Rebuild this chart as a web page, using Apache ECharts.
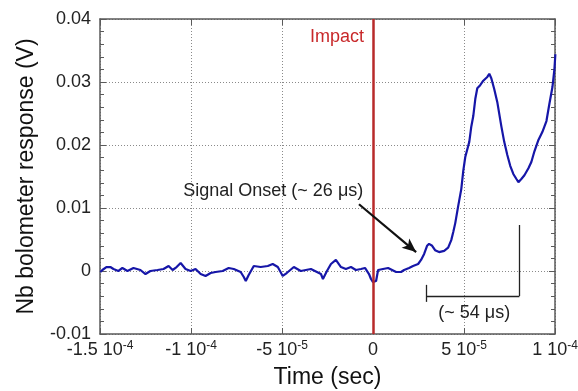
<!DOCTYPE html>
<html>
<head>
<meta charset="utf-8">
<script src="https://cdn.jsdelivr.net/npm/echarts@6/dist/echarts.min.js"></script>
<style>
  html, body { margin: 0; padding: 0; background: #fff; }
  #chart { width: 578px; height: 391px; }
</style>
</head>
<body>
<div id="chart"></div>
<script>
// time in microseconds, response in volts
const timeUs = [
  -149.8, -148.7, -146.5, -144.3, -142.6, -139.9, -137.7, -134.9, -131.6, -127.8,
  -125.0, -122.3, -118.4, -115.1, -112.3, -110.1, -107.9, -105.7, -103.0, -100.2,
  -97.5, -94.7, -92.0, -89.2, -86.5, -82.6, -79.3, -76.5, -72.7, -71.0,
  -69.9, -68.3, -65.5, -61.7, -57.8, -55.1, -52.3, -49.6, -47.4, -43.5,
  -39.7, -36.9, -34.1, -30.8, -28.6, -27.5, -25.3, -23.1, -20.4, -17.6,
  -14.9, -12.1, -9.4, -6.6, -4.4, -2.2, -1.1, 0, 1.7, 2.8,
  5.5, 8.3, 10.5, 12.7, 15.4, 17.1, 19.8, 22.0, 24.8, 26.4,
  28.1, 29.7, 30.8, 32.5, 34.1, 36.3, 39.1, 41.3, 43.0, 44.1,
  45.2, 46.8, 48.5, 49.6, 50.7, 52.9, 54.0, 55.1, 56.2, 57.3,
  58.9, 60.6, 62.8, 63.9, 65.0, 66.6, 68.3, 70.5, 72.1, 73.8,
  75.4, 77.1, 78.8, 79.9, 81.5, 83.2, 85.4, 87.0, 88.7, 90.9,
  93.1, 95.3, 96.9, 98.6, 99.7, 100.2
]
const response = [
  -0.00016, 0.00016, 0.00063, 0.00063, 0.00032, 0, 0.00048, 0, 0.00048, 0.00016,
  -0.00048, 0, 0.00016, 0.00032, 0.00079, 0.00016, 0.00063, 0.00127, 0.00032, 0,
  0.00032, -0.00048, -0.00079, -0.00032, -0.00016, 0, 0.00048, 0.00032, -0.00016, -0.00095,
  -0.00159, -0.00063, 0.00079, 0.00063, 0.00079, 0.00111, 0.00063, -0.00079, -0.00032, 0.00063,
  0, 0.00016, 0.00032, -0.00016, -0.00048, -0.00127, 0, 0.00111, 0.00175, 0.00063,
  0.00032, 0.00063, 0.00016, 0.00032, 0.00048, -0.00048, -0.00127, -0.00175, -0.00159, 0.00016,
  0.00032, 0.00048, 0.00016, -0.00016, -0.00016, 0.00016, 0.00048, 0.00079, 0.00111, 0.00175,
  0.0027, 0.0040, 0.0043, 0.0040, 0.0033, 0.0030, 0.0032, 0.0037, 0.0049, 0.0062,
  0.0076, 0.0103, 0.0130, 0.0159, 0.0181, 0.0205, 0.0229, 0.0246, 0.0273, 0.0290,
  0.0295, 0.0302, 0.0308, 0.0313, 0.0306, 0.0289, 0.0268, 0.0230, 0.0205, 0.0184,
  0.0167, 0.0154, 0.0146, 0.0141, 0.0146, 0.0152, 0.0163, 0.0173, 0.0190, 0.0208,
  0.0221, 0.0238, 0.0265, 0.0292, 0.0321, 0.0344
]

// x tick labels, written as mantissa and power of ten
const xTickValues = [-150, -100, -50, 0, 50, 100]
const xTickMant = ['-1.5', '-1', '-5', '0', '5', '1']
const xTickExp = ['-4', '-4', '-5', '', '-5', '-4']

const impactTime = 0
const onsetArrow = [[-7.7, 0.0106], [23.7, 0.0030]]
const bracketLines = [
  [[29.2, -0.0040], [80.4, -0.0040]],
  [[29.2, -0.0022], [29.2, -0.0049]],
  [[80.4, 0.0073], [80.4, -0.0040]]
]
const notes = [
  { text: 'Impact', at: [-19.8, 0.0371], color: '#c8282a' },
  { text: 'Signal Onset (~ 26 μs)', at: [-54.8, 0.0127], color: '#222' },
  { text: '(~ 54 μs)', at: [55.6, -0.0067], color: '#222' }
]

const font = 'Liberation Sans, Arial, sans-serif'
const axisColor = '#5a5a5a'

const chart = echarts.init(document.getElementById('chart'))

const option = {
  animation: false,
  backgroundColor: '#fff',
  textStyle: { fontFamily: font },
  grid: { left: 100, right: 23, top: 19, bottom: 57, outerBoundsMode: 'none', containLabel: false },
  xAxis: [
    {
      type: 'value',
      position: 'bottom',
      min: -150,
      max: 100,
      interval: 50,
      name: 'Time (sec)',
      nameLocation: 'middle',
      nameGap: 29,
      nameTextStyle: { fontSize: 23, color: '#111', fontFamily: font },
      axisLine: { onZero: false, lineStyle: { color: axisColor, width: 1.5 } },
      axisTick: { inside: true, length: 6, lineStyle: { color: axisColor } },
      axisLabel: {
        margin: 6,
        color: '#222',
        formatter: (v) => {
          const i = xTickValues.indexOf(Math.round(v))
          if (i < 0) return ''
          if (!xTickExp[i]) return '{b|' + xTickMant[i] + '}'
          return '{b|' + xTickMant[i] + ' 10}{e|' + xTickExp[i] + '}'
        },
        rich: {
          b: { fontSize: 18, lineHeight: 20, color: '#222', fontFamily: font },
          e: { fontSize: 12, lineHeight: 20, color: '#222', fontFamily: font, verticalAlign: 'top', padding: [0, 0, 9, 0] }
        }
      },
      splitLine: { show: true, lineStyle: { color: '#8a8a8a', type: [1, 2], width: 1 } }
    },
    {
      type: 'value',
      position: 'top',
      min: -150,
      max: 100,
      interval: 50,
      axisLine: { onZero: false, lineStyle: { color: axisColor, width: 1.5 } },
      axisTick: { inside: true, length: 6, lineStyle: { color: axisColor } },
      axisLabel: { show: false },
      splitLine: { show: false }
    }
  ],
  yAxis: [
    {
      type: 'value',
      position: 'left',
      min: -0.01,
      max: 0.04,
      interval: 0.01,
      name: 'Nb bolometer response (V)',
      nameLocation: 'middle',
      nameGap: 62,
      nameTextStyle: { fontSize: 23, color: '#111', fontFamily: font },
      axisLine: { show: true, onZero: false, lineStyle: { color: axisColor, width: 1.5 } },
      axisTick: { show: true, inside: true, length: 6, lineStyle: { color: axisColor } },
      minorTick: { show: true, splitNumber: 5, length: 4, lineStyle: { color: axisColor } },
      axisLabel: { margin: 9, color: '#222', fontSize: 18 },
      splitLine: { show: true, lineStyle: { color: '#8a8a8a', type: [1, 2], width: 1 } }
    },
    {
      type: 'value',
      position: 'right',
      min: -0.01,
      max: 0.04,
      interval: 0.01,
      axisLine: { show: true, onZero: false, lineStyle: { color: axisColor, width: 1.5 } },
      axisTick: { show: true, inside: true, length: 6, lineStyle: { color: axisColor } },
      minorTick: { show: true, splitNumber: 5, length: 4, lineStyle: { color: axisColor } },
      axisLabel: { show: false },
      splitLine: { show: false }
    }
  ],
  series: [
    {
      type: 'line',
      xAxisIndex: 0,
      yAxisIndex: 0,
      data: timeUs.map((t, i) => [t, response[i]]),
      showSymbol: false,
      lineStyle: { color: '#1616a8', width: 2.2 },
      z: 3,
      markLine: {
        silent: true,
        symbol: 'none',
        label: { show: false },
        data: [
          {
            xAxis: impactTime,
            lineStyle: { color: '#b82a2a', width: 2.5, type: 'solid' }
          },
          [
            { coord: onsetArrow[0], symbol: 'none' },
            { coord: onsetArrow[1], symbol: 'arrow', symbolSize: [9, 14] }
          ]
        ].concat(bracketLines.map((seg) => [
          { coord: seg[0], symbol: 'none' },
          { coord: seg[1], symbol: 'none' }
        ])).map((d, i) => {
          if (i === 1) { d[0].lineStyle = { color: '#111', width: 2.2, type: 'solid' } }
          if (i > 1) { d[0].lineStyle = { color: '#222', width: 1.3, type: 'solid' } }
          return d
        })
      },
      markPoint: {
        silent: true,
        symbolSize: 0,
        data: notes.map((n) => ({
          coord: n.at,
          symbolSize: 0,
          label: {
            show: true,
            position: 'inside',
            formatter: n.text,
            color: n.color,
            fontSize: 18,
            fontFamily: font
          }
        }))
      }
    }
  ]
}

chart.setOption(option)
</script>
</body>
</html>
